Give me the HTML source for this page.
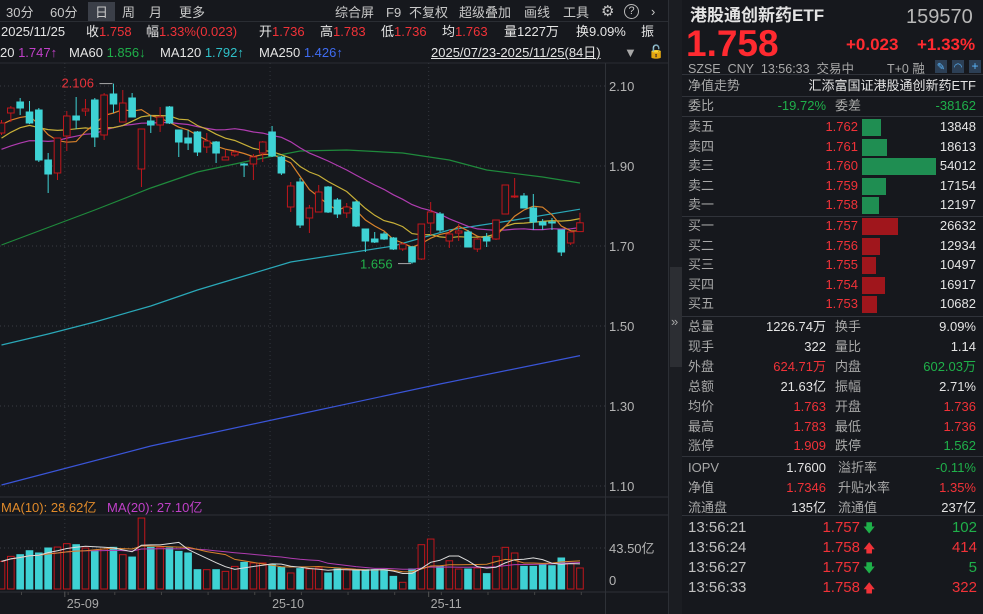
<!DOCTYPE html>
<html><head><meta charset="utf-8">
<style>
*{margin:0;padding:0;box-sizing:border-box}
body{width:983px;height:614px;background:#16181d;overflow:hidden;position:relative;font-family:"Liberation Sans","Noto Sans CJK SC",sans-serif;color:#c8c8c8}
.t{position:absolute;white-space:nowrap;font-size:13px;line-height:16px}
.r{color:#f03238}.g{color:#1fb04a}.w{color:#e4e4e4}.gy{color:#a8a8a8}
.ra{text-align:right}
.sep{position:absolute;height:1px;background:#30333a}
</style></head><body>
<!-- toolbar -->
<div>
<span class="t" style="left:6px;top:5px">30分</span>
<span class="t" style="left:50px;top:5px">60分</span>
<span class="t" style="left:88px;top:2px;width:27px;height:20px;background:#3b3f48;text-align:center;padding-top:3px">日</span>
<span class="t" style="left:122px;top:5px">周</span>
<span class="t" style="left:149px;top:5px">月</span>
<span class="t" style="left:179px;top:5px">更多</span>
<span class="t" style="left:335px;top:5px">综合屏</span>
<span class="t" style="left:386px;top:5px">F9</span>
<span class="t" style="left:409px;top:5px">不复权</span>
<span class="t" style="left:459px;top:5px">超级叠加</span>
<span class="t" style="left:524px;top:5px">画线</span>
<span class="t" style="left:563px;top:5px">工具</span>
<span class="t" style="left:601px;top:4px;font-size:15px">⚙</span>
<span class="t" style="left:624px;top:4px;width:15px;height:15px;border:1px solid #bbb;border-radius:50%;font-size:11px;line-height:13px;text-align:center">?</span>
<span class="t" style="left:651px;top:4px">›</span>
</div>
<div class="sep" style="left:0;top:21px;width:668px;background:#2a2d33"></div>
<div>
<span class="t w" style="left:1px;top:24px">2025/11/25</span>
<span class="t w" style="left:86px;top:24px">收<b class="r" style="font-weight:normal">1.758</b></span>
<span class="t w" style="left:146px;top:24px">幅<b class="r" style="font-weight:normal">1.33%(0.023)</b></span>
<span class="t w" style="left:259px;top:24px">开<b class="r" style="font-weight:normal">1.736</b></span>
<span class="t w" style="left:320px;top:24px">高<b class="r" style="font-weight:normal">1.783</b></span>
<span class="t w" style="left:381px;top:24px">低<b class="r" style="font-weight:normal">1.736</b></span>
<span class="t w" style="left:442px;top:24px">均<b class="r" style="font-weight:normal">1.763</b></span>
<span class="t w" style="left:504px;top:24px">量1227万</span>
<span class="t w" style="left:576px;top:24px">换9.09%</span>
<span class="t w" style="left:641px;top:24px">振</span>
</div>
<div>
<span class="t w" style="left:0;top:45px">20 <span style="color:#c040c8">1.747↑</span></span>
<span class="t w" style="left:69px;top:45px">MA60 <span style="color:#1fb04a">1.856↓</span></span>
<span class="t w" style="left:160px;top:45px">MA120 <span style="color:#2fc0c8">1.792↑</span></span>
<span class="t w" style="left:259px;top:45px">MA250 <span style="color:#3f6cf0">1.426↑</span></span>
<span class="t w" style="left:431px;top:45px;text-decoration:underline">2025/07/23-2025/11/25(84日)</span>
<span class="t gy" style="left:624px;top:45px">▼</span>
<span class="t" style="left:648px;top:44px;color:#d0a030">🔓</span>
</div>

<svg id="chart" width="668" height="614" style="position:absolute;left:0;top:0"></svg>

<!-- divider -->
<div style="position:absolute;left:668px;top:0;width:14px;height:614px;background:#1b1d22;border-left:1px solid #2c2f35"></div>
<div style="position:absolute;left:670px;top:267px;width:12px;height:100px;background:#2c2e33"></div>
<span class="t gy" style="left:671px;top:314px">»</span>

<!-- right panel -->
<div>
<span class="t w" style="left:690px;top:6px;font-size:17px;line-height:20px;font-weight:bold">港股通创新药ETF</span>
<span class="t" style="left:906px;top:6px;font-size:20px;line-height:22px;color:#b8b8b8">159570</span>
<span class="t r" style="left:686px;top:24px;font-size:37px;line-height:40px;font-weight:bold;color:#ff2a30">1.758</span>
<span class="t r" style="left:846px;top:35px;font-size:17px;line-height:20px;font-weight:bold;color:#ff2a30">+0.023</span>
<span class="t r" style="left:917px;top:35px;font-size:17px;line-height:20px;font-weight:bold;color:#ff2a30">+1.33%</span>
<span class="t gy" style="left:688px;top:61px;font-size:12.5px">SZSE&nbsp; CNY&nbsp; 13:56:33&nbsp; 交易中</span>
<span class="t gy" style="left:887px;top:61px;font-size:12.5px">T+0 融</span>
<span class="t" style="left:935px;top:60px;width:12px;height:13px;background:#2c3f55;color:#5cb8ff;font-size:10px;text-align:center">✎</span>
<span class="t" style="left:952px;top:60px;width:12px;height:13px;background:#2c3f55;color:#5cb8ff;font-size:10px;text-align:center">◠</span>
<span class="t" style="left:969px;top:60px;width:12px;height:13px;background:#2c3f55;color:#5cb8ff;font-size:12px;line-height:13px;text-align:center">+</span>
<div class="sep" style="left:682px;top:74px;width:301px"></div>
<span class="t gy" style="left:688px;top:78px">净值走势</span>
<span class="t w ra" style="left:780px;top:78px;width:196px">汇添富国证港股通创新药ETF</span>
<div class="sep" style="left:682px;top:96px;width:301px"></div>
<span class="t gy" style="left:688px;top:98px">委比</span>
<span class="t g ra" style="left:740px;top:98px;width:86px">-19.72%</span>
<span class="t gy" style="left:835px;top:98px">委差</span>
<span class="t g ra" style="left:880px;top:98px;width:96px">-38162</span>
<div class="sep" style="left:682px;top:116px;width:301px"></div>
<div id="book"></div>
<div class="sep" style="left:682px;top:216px;width:301px"></div>
<div class="sep" style="left:682px;top:316px;width:301px"></div>
<div id="stats"></div>
<div class="sep" style="left:682px;top:456px;width:301px"></div>
<div class="sep" style="left:682px;top:515px;width:301px"></div>
<div id="ticks"></div>
</div>

<script>
// ---------- chart data ----------
const dates = ["25-09","25-10","25-11"];
const dateIdx = [7, 29, 46];
const priceTicks = [2.10,1.90,1.70,1.50,1.30,1.10];
const opens  = [1.9825,2.0325,2.06,2.035,2.04,1.915,1.8825,1.975,2.025,2.0375,2.065,1.9775,2.08,2.01,2.07,1.8925,2.0125,2.0025,2.0475,1.99,1.97,1.985,1.9475,1.96,1.915,1.9275,1.905,1.905,1.9325,1.985,1.9225,1.7975,1.86,1.77,1.785,1.8475,1.815,1.7825,1.81,1.7425,1.7175,1.73,1.72,1.6925,1.6975,1.6675,1.7575,1.78,1.7125,1.7325,1.735,1.6925,1.7225,1.7175,1.78,1.8225,1.825,1.795,1.76,1.76,1.74,1.7075,1.736];
const closes = [2.0075,2.045,2.045,2.0075,1.915,1.88,1.97,2.025,2.015,2.0425,1.9725,2.0775,2.055,2.0575,2.0225,1.9925,2.0025,2.0225,2.0075,1.96,1.9575,1.935,1.9625,1.9325,1.9225,1.935,1.904,1.9225,1.96,1.925,1.8825,1.85,1.7525,1.795,1.835,1.785,1.78,1.7975,1.75,1.7125,1.71,1.7175,1.6925,1.705,1.66,1.755,1.785,1.74,1.73,1.7375,1.6975,1.7175,1.7125,1.765,1.8525,1.825,1.795,1.76,1.7525,1.7575,1.685,1.735,1.758];
const highs  = [2.015,2.05,2.07,2.0625,2.045,1.9325,1.97,2.0375,2.0725,2.0675,2.07,2.0825,2.106,2.09,2.0825,1.9925,2.0275,2.0475,2.05,1.99,1.99,1.9875,1.9825,1.9625,1.94,1.94,1.9075,1.93,1.9625,2.0,1.925,1.86,1.87,1.8025,1.8525,1.85,1.82,1.8075,1.8125,1.7425,1.735,1.735,1.7225,1.7075,1.70,1.755,1.81,1.785,1.74,1.755,1.74,1.72,1.7325,1.765,1.8525,1.87,1.8325,1.83,1.7675,1.77,1.74,1.7375,1.783];
const lows   = [1.9775,2.01,2.0275,2.005,1.91,1.8325,1.865,1.9375,1.9925,2.025,1.9475,1.965,2.0325,2.01,2.0225,1.8475,1.9825,1.985,2.005,1.9225,1.94,1.925,1.9325,1.9075,1.915,1.9225,1.8725,1.865,1.91,1.9225,1.8775,1.785,1.745,1.7325,1.785,1.7825,1.77,1.77,1.7475,1.685,1.7075,1.715,1.69,1.6875,1.656,1.665,1.7275,1.735,1.695,1.7125,1.6975,1.685,1.6975,1.715,1.78,1.82,1.795,1.74,1.74,1.74,1.675,1.7025,1.736];
const priorCloses = [1.88,1.90,1.89,1.92,1.91,1.93,1.90,1.92,1.94,1.95,1.90,1.93,1.95,1.97,1.93,1.99,2.01,1.99,2.02];
const volumes = [29.3,34.6,36.4,40.6,38.2,43.5,44.5,48.1,47.0,43.5,41.0,42.4,44.2,36.4,33.9,75.3,44.2,44.2,43.5,39.9,38.2,20.5,20.5,20.5,18.7,24.0,28.3,27.6,27.6,25.8,23.0,17.0,21.6,21.2,22.3,17.0,21.2,20.5,19.8,20.5,20.5,20.5,13.4,7.1,21.2,47.0,53.0,24.0,30.0,21.2,21.2,22.3,16.3,34.6,44.2,38.2,24.0,24.0,25.8,24.7,32.9,27.6,22.3];
const ma60Idx = [0,10,16,21,27,32,37,43,48,52,58,62];
const ma60Val = [1.7025,1.79,1.845,1.885,1.915,1.9375,1.94,1.9325,1.915,1.89,1.8725,1.8575];
const ma120Idx = [0,5,10,16,21,26,31,42,48,55,62];
const ma120Val = [1.4525,1.48,1.51,1.55,1.59,1.625,1.66,1.70,1.74,1.765,1.792];
const ma250Idx = [0,16,31,47,62];
const ma250Val = [1.1025,1.20,1.275,1.355,1.426];

// ---------- axes ----------
const xAt = i => 1.5 + i*9.33;
const yP = p => 86 + (2.10 - p)*400;
const VBASE = 589, VPX = 41/43.5;
const yV = v => VBASE - v*VPX;

const svg = document.getElementById('chart');
const NS = "http://www.w3.org/2000/svg";
function mk(tag, attrs){const e=document.createElementNS(NS,tag);for(const k in attrs)e.setAttribute(k,attrs[k]);svg.appendChild(e);return e;}

let e;
e=mk('line',{x1:0,y1:63,x2:668,y2:63,stroke:'#2a2d33'});
e=mk('line',{x1:605.5,y1:63,x2:605.5,y2:614,stroke:'#2e3137'});


e=mk('line',{x1:0,y1:497,x2:668,y2:497,stroke:'#2e3137'});
e=mk('line',{x1:0,y1:515,x2:668,y2:515,stroke:'#2e3137'});
e=mk('line',{x1:0,y1:592,x2:668,y2:592,stroke:'#2e3137'});
priceTicks.forEach(p=>{
  const l=mk('line',{x1:0,y1:yP(p),x2:605,y2:yP(p),stroke:'#3a3d44','stroke-dasharray':'1,3'});
  
  
  const t=mk('text',{x:609,y:yP(p)+5,fill:'#b4b4b4','font-size':'13','font-family':'Liberation Sans, sans-serif'});
  t.textContent=p.toFixed(2);
  
  
});
dateIdx.forEach((di,k)=>{
  const x=xAt(di)-2;
  const l=mk('line',{x1:x,y1:63,x2:x,y2:592,stroke:'#34373e','stroke-dasharray':'1,3'});
  
  
  mk('line',{x1:x,y1:592,x2:x,y2:597,stroke:'#555'});
  const t=mk('text',{x:x+2,y:608,fill:'#a8a8a8','font-size':'12.5','font-family':'Liberation Sans, sans-serif'});
  t.textContent=dates[k];
  
  
});
for(let i=0;i<closes.length;i+=5){mk('line',{x1:xAt(i)+20,y1:592,x2:xAt(i)+20,y2:595,stroke:'#444'});}

const allC = priorCloses.concat(closes);
function ma(n){return closes.map((c,i)=>{const j=i+priorCloses.length;const s=allC.slice(Math.max(0,j-n+1),j+1);return s.reduce((a,b)=>a+b,0)/s.length;});}
function poly(vals, idx, color, name){
  const pts = vals.map((v,k)=>xAt(idx?idx[k]:k).toFixed(1)+','+yP(v).toFixed(1)).join(' ');
  const p=mk('polyline',{points:pts,fill:'none',stroke:color,'stroke-width':1.2});
  
  
}
poly(ma250Val, ma250Idx, '#3a55d8', 'ma250-line');
poly(ma120Val, ma120Idx, '#2aa8b8', 'ma120-line');
poly(ma60Val, ma60Idx, '#1f8a3c', 'ma60-line');
poly(ma(20), null, '#b03cb0', 'ma20-line');
poly(ma(10), null, '#c8b038', 'ma10-line');
poly(ma(5), null, '#d9822b', 'ma5-line');

closes.forEach((c,i)=>{
  const o=opens[i], up=c>=o, x=xAt(i);
  const col = up ? '#c0161c' : '#3ed2d4';
  const w=mk('line',{x1:x,y1:yP(highs[i]),x2:x,y2:yP(lows[i]),stroke:col,'stroke-width':1});
  
  
  const top=yP(Math.max(o,c)), h=Math.max(1,Math.abs(yP(o)-yP(c)));
  const r=mk('rect',{x:x-3.3,y:top,width:6.6,height:h,fill:up?'#16181d':col,stroke:col,'stroke-width':1});
  
  
});
(function(){
  let hi=0,lo=0;highs.forEach((h,i)=>{if(h>highs[hi])hi=i;});lows.forEach((l,i)=>{if(l<lows[lo])lo=i;});
  let t=mk('text',{x:xAt(hi)-52,y:yP(highs[hi])+4,fill:'#e8323a','font-size':'13','font-family':'Liberation Sans, sans-serif'});
  t.textContent=highs[hi].toFixed(3);
  
  
  mk('line',{x1:xAt(hi)-14,y1:yP(highs[hi]),x2:xAt(hi)-1,y2:yP(highs[hi]),stroke:'#aaa'});
  t=mk('text',{x:xAt(lo)-52,y:yP(lows[lo])+5,fill:'#22b04a','font-size':'13','font-family':'Liberation Sans, sans-serif'});
  t.textContent=lows[lo].toFixed(3);
  
  
  mk('line',{x1:xAt(lo)-14,y1:yP(lows[lo]),x2:xAt(lo)-1,y2:yP(lows[lo]),stroke:'#aaa'});
})();

let vt=mk('text',{x:1,y:512,fill:'#e08a2a','font-size':'13','font-family':'Liberation Sans, Noto Sans CJK SC, sans-serif'});
vt.textContent='MA(10): 28.62亿';


vt=mk('text',{x:107,y:512,fill:'#c040c8','font-size':'13','font-family':'Liberation Sans, Noto Sans CJK SC, sans-serif'});
vt.textContent='MA(20): 27.10亿';


mk('line',{x1:0,y1:yV(43.5),x2:605,y2:yV(43.5),stroke:'#3a3d44','stroke-dasharray':'1,3'});
vt=mk('text',{x:609,y:yV(43.5)+5,fill:'#b4b4b4','font-size':'13','font-family':'Liberation Sans, Noto Sans CJK SC, sans-serif'});
vt.textContent='43.50亿';


vt=mk('text',{x:609,y:585,fill:'#b4b4b4','font-size':'13','font-family':'Liberation Sans, sans-serif'});
vt.textContent='0';


volumes.forEach((v,i)=>{
  const up=closes[i]>=opens[i], col=up?'#c0161c':'#3ed2d4', x=xAt(i);
  const b=mk('rect',{x:x-3.3,y:yV(v),width:6.6,height:VBASE-yV(v),fill:up?'#16181d':col,stroke:col,'stroke-width':1});
  
  
});
function vma(n){return volumes.map((v,i)=>{const s=volumes.slice(Math.max(0,i-n+1),i+1);return s.reduce((a,b)=>a+b,0)/s.length;});}
[[20,'#b03cb0','volume-ma20-line'],[10,'#d9822b','volume-ma10-line'],[5,'#dcdcdc','volume-ma5-line']].forEach(([n,c,nm])=>{
  const pts=vma(n).map((v,i)=>xAt(i).toFixed(1)+','+yV(v).toFixed(1)).join(' ');
  const p=mk('polyline',{points:pts,fill:'none',stroke:c,'stroke-width':1});
  
  
});

// ---------- order book ----------
const askLabels=["卖五","卖四","卖三","卖二","卖一"];
const askPrices=["1.762","1.761","1.760","1.759","1.758"];
const askVols=[13848,18613,54012,17154,12197];
const bidLabels=["买一","买二","买三","买四","买五"];
const bidPrices=["1.757","1.756","1.755","1.754","1.753"];
const bidVols=[26632,12934,10497,16917,10682];
const book=document.getElementById('book');
function row(y,lab,pr,vol,color,name){
  const d=document.createElement('div');
  
  
  d.innerHTML=`<span class="t gy" style="left:688px;top:${y}px">${lab}</span><span class="t r ra" style="left:800px;top:${y}px;width:58px">${pr}</span><span style="position:absolute;left:862px;top:${y}px;height:17px;width:${vol*0.00137}px;background:${color}"></span><span class="t w ra" style="left:900px;top:${y}px;width:76px">${vol}</span>`;
  book.appendChild(d);
}
askLabels.forEach((l,i)=>row(119+i*19.6,l,askPrices[i],askVols[i],'#1f8e52','ask-level'));
bidLabels.forEach((l,i)=>row(218+i*19.6,l,bidPrices[i],bidVols[i],'#a0161c','bid-level'));

// ---------- stats ----------
const stats=[["总量","1226.74万","w","换手","9.09%","w"],["现手","322","w","量比","1.14","w"],["外盘","624.71万","r","内盘","602.03万","g"],["总额","21.63亿","w","振幅","2.71%","w"],["均价","1.763","r","开盘","1.736","r"],["最高","1.783","r","最低","1.736","r"],["涨停","1.909","r","跌停","1.562","g"],["IOPV","1.7600","w","溢折率","-0.11%","g"],["净值","1.7346","r","升贴水率","1.35%","r"],["流通盘","135亿","w","流通值","237亿","w"]];
const st=document.getElementById('stats');
stats.forEach((s,i)=>{
  const y=319+i*19.9+(i>=7?2:0);
  const d=document.createElement('div');
  
  
  d.innerHTML=`<span class="t gy" style="left:688px;top:${y}px">${s[0]}</span><span class="t ${s[2]} ra" style="left:740px;top:${y}px;width:86px">${s[1]}</span><span class="t gy" style="left:${i>=7?838:835}px;top:${y}px">${s[3]}</span><span class="t ${s[5]} ra" style="left:890px;top:${y}px;width:86px">${s[4]}</span>`;
  st.appendChild(d);
});

// ---------- ticks ----------
const tickTimes=["13:56:21","13:56:24","13:56:27","13:56:33"];
const tickPrices=["1.757","1.758","1.757","1.758"];
const tickDir=[-1,1,-1,1];
const tickVols=[102,414,5,322];
const tk=document.getElementById('ticks');
tickTimes.forEach((t,i)=>{
  const y=519+i*20;
  const d=document.createElement('div');
  
  
  const up=tickDir[i]>0;
  d.innerHTML=`<span class="t gy" style="left:688px;top:${y}px;font-size:15px;line-height:18px;color:#c0c0c0">${t}</span><span class="t r ra" style="left:790px;top:${y}px;width:70px;font-size:15px;line-height:18px">${tickPrices[i]}</span><span class="t ${up?'r':'g'}" style="left:863px;top:${y}px;font-size:12px;line-height:18px">${up?'🡅':'🡇'}</span><span class="t ${up?'r':'g'} ra" style="left:900px;top:${y}px;width:77px;font-size:15px;line-height:18px">${tickVols[i]}</span>`;
  tk.appendChild(d);
});
</script>
</body></html>
